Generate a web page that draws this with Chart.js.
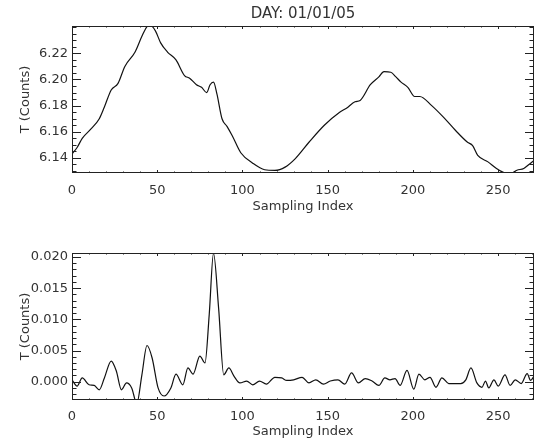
<!DOCTYPE html>
<html>
<head>
<meta charset="utf-8">
<script src="https://cdn.jsdelivr.net/npm/chart.js@4/dist/chart.umd.min.js"></script>
<style>
html, body { margin: 0; padding: 0; background: #fff; }
#wrap { position: relative; width: 535px; height: 443px; }
.panel { position: absolute; left: 0; width: 535px; }
#p1 { top: 0; height: 222px; }
#p2 { top: 222px; height: 221px; }
</style>
</head>
<body>
<div id="wrap">
	<div class="panel" id="p1"><canvas id="top-chart" width="535" height="222"></canvas></div>
	<div class="panel" id="p2"><canvas id="bottom-chart" width="535" height="221"></canvas></div>
</div>
<script>
// x axis (sampling index)
var xTicks = [0, 50, 100, 150, 200, 250];
var xMinorStep = 10;

// upper panel : raw T
var topX = [0,3,6,11,16,19,23,27,31,37,41,44,46,49,52,56,61,66,69,73,76,79,81,83,85,88,91,94,99,106,113,119,125,131,139,148,157,161,166,169,175,180,183,187,190,193,197,201,204,211,218,225,232,235,238,244,249,253,257,261,265,269,271];
var topT = [6.143,6.148,6.155,6.162,6.170,6.179,6.192,6.197,6.210,6.221,6.233,6.2405,6.2415,6.237,6.228,6.221,6.215,6.203,6.201,6.196,6.194,6.190,6.196,6.198,6.189,6.170,6.164,6.157,6.144,6.136,6.131,6.1305,6.133,6.1395,6.152,6.165,6.175,6.178,6.183,6.184,6.196,6.202,6.206,6.2055,6.202,6.198,6.194,6.187,6.187,6.180,6.171,6.161,6.152,6.1495,6.142,6.137,6.132,6.129,6.128,6.1306,6.132,6.136,6.138];
var topYTicks = [6.14, 6.16, 6.18, 6.20, 6.22];

// lower panel : filtered T
var botX = [0,3,6,10,13,16,19,23,26,29,32,35,38,41,44,47,50.5,54,58,61,65,68,71,75,78,80.5,83,86,89,92,95,98.5,102.5,106,110,114,119,123,126,130,135,139,143,147.5,151.5,156,160,164,168,172,176,180,183.5,186.5,189.5,192.5,196.5,200.5,203.5,207,210,213.5,217,221,228,231,234,237.5,240.5,242.5,244.5,247.5,250,254,257,260,263.5,267,269,271];
var botT = [0.0003,-0.0007,0.0006,-0.0005,-0.0006,-0.0013,0.0006,0.0033,0.0017,-0.0013,-0.0002,-0.001,-0.0035,0.0011,0.0058,0.0038,-0.001,-0.0023,-0.001,0.0012,-0.0005,0.0022,0.0012,0.0041,0.003,0.0108,0.0206,0.0118,0.0011,0.0022,0.0009,-0.0002,0.0001,-0.0005,0.0001,-0.0004,0.0007,0.0006,0.0002,0.0003,0.0007,-0.0002,0.0003,-0.0004,0.0001,0.0003,-0.0004,0.0014,-0.0002,0.0005,0.0001,-0.0006,0.0006,0.0003,0.0005,-0.0006,0.0018,-0.0012,0.0012,0.0003,0.0007,-0.0009,0.0006,-0.0003,-0.0003,0.0003,0.0022,-0.0002,-0.0009,0.0001,-0.001,0.0003,-0.0007,0.0011,-0.0006,0.0003,-0.0003,0.0013,0.0002,0.0009];
var botYTicks = [0.000, 0.005, 0.010, 0.015, 0.020];

var txtColor = '#333';
var fontFamily = "'DejaVu Sans', sans-serif";

// IDL style box + inward ticks on all 4 sides
var idlFrame = {
	id: 'idlFrame',
	afterDatasetsDraw: function(chart, args, o) {
		var ctx = chart.ctx, a = chart.chartArea;
		var x = chart.scales.x, y = chart.scales.y;
		ctx.save();
		ctx.strokeStyle = '#222';
		ctx.lineWidth = 1;
		ctx.strokeRect(Math.round(a.left) + 0.5, Math.round(a.top) + 0.5, Math.round(a.width) - 1, Math.round(a.height) - 1);
		ctx.beginPath();
		// x ticks
		for (var i = 0; i * xMinorStep <= x.max; i++) {
			var v = i * xMinorStep;
			var len = xTicks.indexOf(v) >= 0 ? o.xLen : o.xLen / 2;
			var px = Math.round(x.getPixelForValue(v)) + 0.5;
			ctx.moveTo(px, a.bottom); ctx.lineTo(px, a.bottom - len);
			ctx.moveTo(px, a.top); ctx.lineTo(px, a.top + len);
		}
		// y ticks
		var i0 = Math.ceil(y.min / o.yMinor - 1e-6), i1 = Math.floor(y.max / o.yMinor + 1e-6);
		for (var j = i0; j <= i1; j++) {
			var yv = j * o.yMinor;
			var major = o.yMajor.some(function(t) { return Math.abs(t - yv) < o.yMinor / 10; });
			var ylen = major ? o.yLen : o.yLen / 2;
			var py = Math.round(y.getPixelForValue(yv)) + 0.5;
			ctx.moveTo(a.left, py); ctx.lineTo(a.left + ylen, py);
			ctx.moveTo(a.right, py); ctx.lineTo(a.right - ylen, py);
		}
		ctx.stroke();
		ctx.restore();
	}
};

function toPoints(xs, ys) {
	return xs.map(function(v, i) { return {x: v, y: ys[i]}; });
}

function makePanel(id, xs, ys, cfg) {
	return new Chart(document.getElementById(id), {
		type: 'line',
		data: {
			datasets: [{
				data: toPoints(xs, ys),
				borderColor: '#111',
				borderWidth: 1.2,
				pointRadius: 0,
				cubicInterpolationMode: 'monotone',
				fill: false
			}]
		},
		plugins: [idlFrame],
		options: {
			responsive: false,
			animation: false,
			layout: { padding: { top: cfg.padTop, right: 1, left: 0, bottom: 0 } },
			plugins: {
				legend: { display: false },
				tooltip: { enabled: false },
				title: cfg.title ? {
					display: true,
					text: cfg.title,
					fullSize: false,
					color: txtColor,
					font: { family: fontFamily, size: 15, weight: 'normal' },
					padding: { top: 5, bottom: 3 }
				} : { display: false },
				idlFrame: { xLen: 3, yLen: 9, yMajor: cfg.yTicks, yMinor: cfg.yMinor }
			},
			scales: {
				x: {
					type: 'linear',
					min: 0,
					max: 271,
					afterBuildTicks: function(s) { s.ticks = xTicks.map(function(v) { return {value: v}; }); },
					afterFit: function(s) { s.height = cfg.xHeight; },
					grid: { display: false, drawTicks: false },
					border: { display: false },
					ticks: {
						padding: cfg.xPad,
						color: txtColor,
						maxRotation: 0,
						autoSkip: false,
						font: { family: fontFamily, size: 13 },
						callback: function(v) { return v; }
					},
					title: {
						display: true,
						text: 'Sampling Index',
						color: txtColor,
						font: { family: fontFamily, size: 13 },
						padding: { top: 0, bottom: cfg.xTitlePad }
					}
				},
				y: {
					type: 'linear',
					min: cfg.yMin,
					max: cfg.yMax,
					afterBuildTicks: function(s) { s.ticks = cfg.yTicks.map(function(v) { return {value: v}; }); },
					afterFit: function(s) { s.width = 72; },
					grid: { display: false, drawTicks: false },
					border: { display: false },
					ticks: {
						padding: 4,
						color: txtColor,
						font: { family: fontFamily, size: 13 },
						callback: function(v) { return Number(v).toFixed(cfg.dec); }
					},
					title: {
						display: true,
						text: 'T (Counts)',
						color: txtColor,
						font: { family: fontFamily, size: 13 },
						padding: { top: 18, bottom: 0 }
					}
				}
			}
		}
	});
}

// 위 패널
makePanel('top-chart', topX, topT, {
	title: 'DAY: 01/01/05',
	padTop: 0,
	xHeight: 49,
	xPad: 10,
	xTitlePad: 8,
	yMin: 6.1285,
	yMax: 6.2409,
	yTicks: topYTicks,
	yMinor: 0.005,
	dec: 2
});

// 아래 패널
makePanel('bottom-chart', botX, botT, {
	title: null,
	padTop: 31,
	xHeight: 43,
	xPad: 9,
	xTitlePad: 4,
	yMin: -0.00294,
	yMax: 0.02064,
	yTicks: botYTicks,
	yMinor: 0.001,
	dec: 3
});
</script>
</body>
</html>
